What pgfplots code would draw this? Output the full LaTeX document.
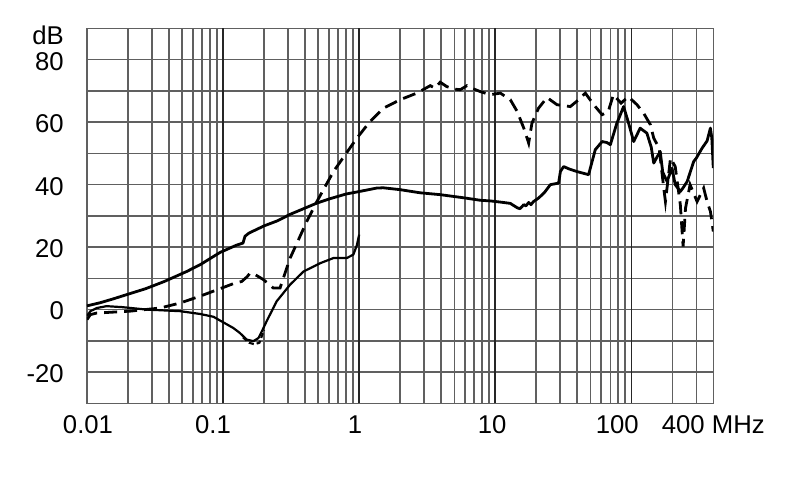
\documentclass[border=0pt]{standalone}
\usepackage{fontspec}
\setmainfont{Liberation Sans}
\usepackage{pgfplots}
\pgfplotsset{compat=1.18}
\definecolor{gridgray}{RGB}{96,96,96}

\begin{document}
\begin{tikzpicture}
\path[use as bounding box] (-87bp,-95.7bp) rectangle (703bp,403.3bp);
\begin{axis}[
    at={(0,0)}, anchor=south west,
    scale only axis, width=626.3bp, height=374.8bp,
    xmode=log, xmin=0.01, xmax=400,
    ymin=-30, ymax=90,
    axis line style={gridgray, line width=1.5bp},
    tick style={draw=none},
    tick label style={font=\fontsize{25.7bp}{30bp}\selectfont, inner sep=0pt},
    xtick={0.01017,0.0844,0.934,9.5,78.9,400},
    xticklabels={0.01,0.1,1,10,100,400 MHz},
    minor xtick={0.02,0.03,0.04,0.05,0.06,0.07,0.08,0.09,
                 0.2,0.3,0.4,0.5,0.6,0.7,0.8,0.9,
                 2,3,4,5,6,7,8,9,
                 20,30,40,50,60,70,80,90,200,300},
    extra x ticks={0.1,1,10,100},
    extra x tick labels={},
    extra x tick style={grid=major, major grid style={black!85, line width=1.7bp}},
    xmajorgrids=false, xminorgrids=true,
    ymajorgrids=true, yminorgrids=true,
    major grid style={gridgray, line width=1.5bp},
    minor grid style={gridgray, line width=1.5bp},
    ytick={-20,0,20,40,60,80},
    yticklabels={-20,0,20,40,60,80},
    minor ytick={-10,10,30,50,70},
    extra y ticks={88.4}, extra y tick labels={dB},
    extra y tick style={grid=none},
    xticklabel style={anchor=base, yshift=-29.7bp},
    yticklabel style={anchor=east, xshift=-23bp, yshift=-1.5bp},
]
% upper solid curve
\addplot[black, line width=2.8bp, line join=round] coordinates {
(0.01,1.2) (0.0125,2.2) (0.0155,3.4) (0.0196,4.8) (0.027,6.7) (0.037,9.0)
(0.054,12.2) (0.068,14.4) (0.095,18.3) (0.125,20.6) (0.14,21.3) (0.145,23.5)
(0.155,24.5) (0.2,26.8) (0.25,28.4) (0.311,30.5) (0.39,32.3) (0.489,34.1)
(0.61,35.5) (0.8,37.0) (1.0,37.8) (1.34,38.9) (1.5,39.0) (2.0,38.4)
(2.8,37.4) (3.94,36.8) (5.85,35.8) (7.76,35.0) (9.18,34.8) (11.5,34.3)
(12.9,34.0) (14.5,32.6) (15.2,32.3) (16.2,33.6) (16.8,33.2) (17.6,34.3)
(18.3,33.6) (19.1,34.6) (20.8,35.7) (23,37.5) (25.4,40.0) (29.2,40.5)
(30.1,44.2) (31.8,45.8) (35,45.0) (39.8,44.2) (48.5,43.2) (54.3,51.2)
(61,53.8) (66,53.5) (70.1,52.8) (78,59.5) (87.7,65) (95,60) (104,53.8)
(110,56) (116,58.1) (130,56.5) (140,52) (146,46.9) (155,49) (163,50.6)
(170,44) (183,41) (190,43) (199,45.3) (210,40) (229,37.8) (240,39)
(257,41) (287,47.4) (300,48.5) (331,51.7) (360,54) (381,58.1) (390,55) (400,45.3)
};
% dashed curve
\addplot[black, line width=2.8bp, dash pattern=on 13bp off 7bp] coordinates {
(0.01,-3.2) (0.0106,-1.6) (0.0118,-1.1) (0.0207,-0.5) (0.0344,0.5) (0.0483,2.1)
(0.0678,4.3) (0.119,8.3) (0.137,9.0) (0.15,10.5) (0.158,11.7) (0.172,11.2)
(0.198,9.6) (0.234,6.9) (0.262,6.9) (0.311,16.5) (0.412,28.2) (0.489,34.6)
(0.647,44.2) (0.962,54.9) (1.2,60.2) (1.51,64.5) (2.0,67.2) (2.65,69.3)
(3.33,71.7) (3.6,70.9) (3.94,72.8) (4.4,71.4) (5.0,70.6) (5.53,70.4)
(6.2,71.7) (6.8,70.8) (7.76,69.8) (9.18,68.8) (10.9,69.3) (12.9,67.2)
(14.5,63.4) (16.2,58.1) (17.6,53.3) (18.6,59.7) (20.8,64.5) (24,67.9)
(28.4,65.6) (35.6,65) (41,67.2) (45.9,69.3) (52.9,65.6) (61,62.4)
(67.6,63.4) (73.8,68.8) (84,66.1) (95,68.2) (110,65.6) (123,62.9)
(138,59.2) (146,54.9) (160,51.7) (173,38.9) (178,34.6) (194,48.5)
(210,45.8) (229,33.6) (240,20.2) (250,32.5) (270,40) (304,34.6)
(340,38.9) (360,34.6) (381,31.4) (400,25)
};
% lower solid curve
\addplot[black, line width=2.2bp, line join=round] coordinates {
(0.01,-2.0) (0.0106,-0.5) (0.0118,0.5) (0.0139,1.1) (0.018,0.8) (0.0275,0.0)
(0.0483,-0.5) (0.0678,-1.4) (0.085,-2.3) (0.095,-3.5) (0.119,-5.9) (0.133,-7.5)
(0.149,-9.6) (0.167,-10.1) (0.182,-9.1) (0.195,-6.5) (0.209,-3.7) (0.248,2.7)
(0.311,8.0) (0.39,12.2) (0.52,14.9) (0.647,16.5) (0.81,16.5) (0.906,17.6)
(0.96,20.5) (1.0,24.0)
};
% dashed trace hidden under the lower curve, visible at the dip
\addplot[black, line width=2.1bp, dash pattern=on 5bp off 3bp] coordinates {
(0.14,-8.9) (0.155,-10.6) (0.17,-11.1) (0.185,-10.6) (0.2,-6.5)
};
\end{axis}
\end{tikzpicture}
\end{document}
